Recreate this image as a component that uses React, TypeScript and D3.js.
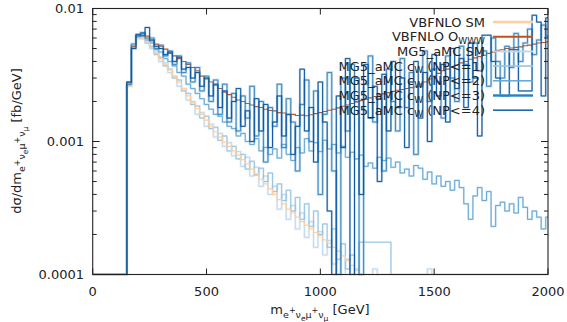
import * as d3 from "d3";
import { useEffect, useRef } from "react";

// all cross sections below are in units of 1e-4 fb/GeV, 20 GeV bins starting at 150 GeV
const UNIT = 1e-4;
const BIN_START = 150;
const BIN_WIDTH = 20;

const X_TICKS = [0, 500, 1000, 1500, 2000];
const Y_TICKS = [0.0001, 0.001, 0.01];
const Y_TICK_LABELS = ["0.0001", "0.001", "0.01"];

const vbfnloSM = [
  26, 50, 59, 60, 56, 51, 46, 42, 38, 34.5,
  31, 28, 25, 22, 19.5, 17.7, 16.0, 14.5, 13.0, 11.8,
  10.8, 9.9, 9.2, 8.5, 7.9, 7.3, 6.8, 6.2, 5.7, 5.2,
  4.8, 4.4, 4.0, 3.65, 3.4, 3.1, 2.9, 2.7, 2.5, 2.35,
  2.2, 2.07, 1.95, 1.82, 1.72, 1.6, 1.5, 1.38, 1.27, 1.17,
  1.07, 0.98, 0.9, 0.82, 0.75,
];

const vbfnloOwww = [
  28, 52, 63, 65, 62, 57, 54, 52, 49.5, 46,
  44, 42, 40, 38, 36, 34, 31, 29.5, 28, 26.5,
  25, 23.5, 22.5, 21.5, 20.5, 20, 19.3, 18.8, 18.3, 18,
  17.5, 17.1, 17.0, 16.5, 16.4, 15.9, 16.0, 15.7, 15.8, 15.6,
  15.9, 16.2, 16.5, 16.8, 17.2, 17.5, 17.9, 18.4, 18.8, 19.3,
  19.8, 20.3, 20.8, 21.3, 21.8, 22.4, 22.8, 23.3, 23.8, 24.3,
  24.6, 25.0, 25.4, 25.8, 27, 28, 29.5, 31, 32.5, 34,
  35, 36.5, 37.5, 39, 40, 41.5, 42.5, 43.5, 44.5, 46,
  47, 48.5, 49, 50, 50.5, 51, 51.5, 52.5, 53, 54,
  55, 55.5, 56,
];

const mg5SM = [
  26, 50, 61, 59, 57, 50, 47, 40, 39, 33,
  31, 26, 25, 20.5, 20, 16, 16.5, 13, 13.5, 10.8,
  11.5, 9.2, 9.8, 7.8, 8.4, 6.5, 7.6, 5.5, 6.4, 4.6,
  5.5, 4.0, 4.6, 3.1, 4.0, 2.6, 3.3, 2.2, 2.9, 1.9,
  2.5, 1.6, 2.1, 1.4, 1.8, 1.2, 1.5, 0, 1.3, 0,
  1.1, 0, 0, 0, 1.1, 0, 0, 0, 0, 0,
  0, 0, 0, 0, 0, 0, 1.1, 0,
];

const mg5NP1 = [
  26, 51, 60, 61, 55, 52, 45, 43, 37, 35,
  30, 29, 24, 23, 19, 18.5, 15, 15.5, 12.5, 12.8,
  10.2, 11, 8.5, 9.2, 7.4, 8.0, 6.2, 7.1, 5.6, 6.3,
  5.0, 5.8, 4.2, 4.8, 3.6, 4.3, 3.0, 3.8, 2.6, 3.4,
  2.3, 3.0, 2.0, 2.4, 1.6, 2.2, 1.3, 1.7, 1.1, 1.4,
  0, 1.75, 1.75, 1.75, 1.75, 1.75, 1.75, 1.75, 0,
];

const mg5NP2 = [
  27, 52, 62, 62, 58, 55, 49, 47, 42, 40,
  37, 33, 31, 27, 25, 23, 21, 19, 17.5, 16,
  15.5, 14, 13, 12.5, 11, 11.5, 10, 9.5, 10.5, 8.5,
  9, 8, 8.8, 7.5, 9.5, 8, 7.2, 9, 8.2, 10.5,
  8.5, 9.8, 8.4, 10.2, 8.8, 9.5, 8.2, 9.2, 7.6, 8.3,
  7.4, 7.9, 6.5, 6.9, 6.3, 7.6, 7.2, 7.5, 6.4, 7.0,
  5.8, 6.2, 5.5, 6.6, 6.3, 5.2, 5.9, 4.8, 5.5, 4.6,
  5.0, 4.3, 5.1, 4.5, 3.4, 2.6, 3.9, 4.5, 3.6, 4.2,
  2.3, 3.3, 3.5, 3.0, 3.4, 2.9, 3.8, 3.2, 2.6, 3.0,
  2.7, 2.2, 2.7,
];

const mg5NP3 = [
  27, 54, 62, 66, 60, 60, 50, 53, 44, 48,
  38, 44, 33, 39, 28, 36, 24, 31, 20, 29,
  16, 27, 14, 23, 12, 22, 15, 26, 11, 20,
  7, 18, 13, 27, 9, 21, 14, 6, 19, 29,
  10, 24, 4, 16, 33, 6, 0, 30, 12, 38,
  20, 0, 27, 44, 14, 21, 6, 35, 20, 12,
  42, 18, 33, 8, 26, 48, 20, 35, 28, 15,
  44, 30, 20, 52, 38, 28, 55, 34, 48, 26,
  60, 40, 30, 52, 36, 65, 40, 55, 70, 45,
  58, 75, 62,
];

const mg5NP4 = [
  28, 50, 64, 63, 72, 58, 52, 50, 45, 47,
  40, 43, 35, 36, 30, 33, 26, 30, 22, 27,
  18, 24, 15, 20, 25, 13, 17, 10, 21, 12,
  19, 9, 14, 22, 11, 16, 8, 13, 35, 12,
  18, 7, 28, 14, 3, 0, 22, 9, 42, 0,
  30, 4, 38, 15, 26, 5, 32, 12, 40, 18,
  30, 9, 28, 40, 15, 33, 10, 45, 22, 38,
  14, 50, 25, 42, 18, 55, 30, 11, 63, 63,
  40, 30, 22, 22, 49, 49, 24, 24, 24, 89,
  79, 22, 85,
];

interface Series {
  values: number[];
  color: string;
  width: number;
  band?: string;
  bandWidth?: number;
  label: [string, string, string];
  legendWidth: number;
}

// legend order
const SERIES: Series[] = [
  { values: vbfnloSM, color: "#fdcfa2", width: 1.2, label: ["VBFNLO SM", "", ""], legendWidth: 2.5 },
  { values: vbfnloOwww, color: "#c4501b", width: 1.1, label: ["VBFNLO O", "WWW", ""], legendWidth: 2 },
  { values: mg5SM, color: "#bcd5ec", width: 0.9, band: "#c6dbef", bandWidth: 2.5, label: ["MG5_aMC SM", "", ""], legendWidth: 2 },
  { values: mg5NP1, color: "#8fc0e0", width: 0.9, band: "#9ecae1", bandWidth: 2, label: ["MG5_aMC c", "W", " (NP<=1)"], legendWidth: 1.5 },
  { values: mg5NP2, color: "#5ba3d3", width: 0.9, band: "#6baed6", bandWidth: 2, label: ["MG5_aMC c", "W", " (NP<=2)"], legendWidth: 1.5 },
  { values: mg5NP3, color: "#2f7fbd", width: 0.9, band: "#4292c6", bandWidth: 2.5, label: ["MG5_aMC c", "W", " (NP<=3)"], legendWidth: 3 },
  { values: mg5NP4, color: "#0d57a1", width: 1, band: "#2171b5", bandWidth: 2, label: ["MG5_aMC c", "W", " (NP<=4)"], legendWidth: 1.5 },
];
const DRAW_ORDER = [2, 3, 4, 0, 1, 5, 6];

type Part = { t: string; lvl: number; size: number };

// e+ ν_e μ+ ν_μ written as subscript with nested super/sub scripts
const SUB_PARTS: Part[] = [
  { t: "e", lvl: 4, size: 9.5 },
  { t: "+", lvl: -1, size: 8 },
  { t: "ν", lvl: 4, size: 9.5 },
  { t: "e", lvl: 6.5, size: 7.5 },
  { t: "μ", lvl: 4, size: 9.5 },
  { t: "+", lvl: -1, size: 8 },
  { t: "ν", lvl: 4, size: 9.5 },
  { t: "μ", lvl: 6.5, size: 7.5 },
];

function rich(
  text: d3.Selection<SVGTextElement, unknown, null, undefined>,
  parts: Part[],
) {
  let prev = 0;
  parts.forEach((p) => {
    text
      .append("tspan")
      .attr("dy", p.lvl - prev)
      .attr("font-size", p.size)
      .text(p.t);
    prev = p.lvl;
  });
}

export default function App() {
  const svgRef = useRef<SVGSVGElement>(null);
  const width = 567;
  const height = 322;

  useEffect(() => {
    if (!svgRef.current) return;
    const svg = d3.select(svgRef.current);
    svg.selectAll("*").remove();

    const left = 92.7;
    const right = 548;
    const top = 8.5;
    const bottom = 274.5;
    const font = "DejaVu Sans";
    const ink = "#222";

    const x = d3.scaleLinear().domain([0, 2000]).range([left, right]);
    const y = d3.scaleLog().domain([1e-4, 1e-2]).range([bottom, top]);
    const yv = (v: number) => (v > 0 ? y(v * UNIT) : bottom);

    svg
      .append("defs")
      .append("clipPath")
      .attr("id", "plot")
      .append("rect")
      .attr("x", left)
      .attr("y", top)
      .attr("width", right - left)
      .attr("height", bottom - top + 1);

    const line = d3
      .line<[number, number]>()
      .x((d) => x(d[0]))
      .y((d) => yv(d[1]))
      .curve(d3.curveStepAfter);

    const pts = (vals: number[]): [number, number][] => {
      const p: [number, number][] = [[0, 0]];
      vals.forEach((v, i) => p.push([BIN_START + i * BIN_WIDTH, v]));
      p.push([BIN_START + vals.length * BIN_WIDTH, 0]);
      if (BIN_START + vals.length * BIN_WIDTH < 2000) p.push([2000, 0]);
      return p;
    };

    const g = svg.append("g").attr("clip-path", "url(#plot)");
    DRAW_ORDER.forEach((k) => {
      const s = SERIES[k];
      const d = line(pts(s.values));
      if (s.band) {
        g.append("path")
          .attr("d", d)
          .attr("fill", "none")
          .attr("stroke", s.band)
          .attr("stroke-width", s.bandWidth ?? 2)
          .attr("stroke-opacity", 0.35);
      }
      g.append("path")
        .attr("d", d)
        .attr("fill", "none")
        .attr("stroke", s.color)
        .attr("stroke-width", s.width);
    });

    // frame
    svg
      .append("rect")
      .attr("x", left)
      .attr("y", top)
      .attr("width", right - left)
      .attr("height", bottom - top)
      .attr("fill", "none")
      .attr("stroke", ink)
      .attr("stroke-width", 1.1);

    const ticks = svg.append("g").attr("stroke", ink).attr("stroke-width", 1);
    X_TICKS.forEach((t) => {
      ticks.append("line").attr("x1", x(t)).attr("x2", x(t)).attr("y1", bottom).attr("y2", bottom - 6);
      ticks.append("line").attr("x1", x(t)).attr("x2", x(t)).attr("y1", top).attr("y2", top + 6);
    });
    const minor: number[] = [];
    [1e-4, 1e-3].forEach((d) => {
      for (let k = 2; k <= 9; k++) minor.push(d * k);
    });
    minor.forEach((t) => {
      ticks.append("line").attr("x1", left).attr("x2", left + 4).attr("y1", y(t)).attr("y2", y(t));
      ticks.append("line").attr("x1", right).attr("x2", right - 4).attr("y1", y(t)).attr("y2", y(t));
    });
    Y_TICKS.forEach((t) => {
      ticks.append("line").attr("x1", left).attr("x2", left + 7).attr("y1", y(t)).attr("y2", y(t));
      ticks.append("line").attr("x1", right).attr("x2", right - 7).attr("y1", y(t)).attr("y2", y(t));
    });

    const labels = svg
      .append("g")
      .attr("font-family", font)
      .attr("font-size", 13)
      .attr("fill", ink);
    X_TICKS.forEach((t) => {
      labels
        .append("text")
        .attr("x", x(t))
        .attr("y", 296)
        .attr("text-anchor", "middle")
        .text(String(t));
    });
    Y_TICKS.forEach((t, i) => {
      labels
        .append("text")
        .attr("x", 84)
        .attr("y", y(t) + 4.5)
        .attr("text-anchor", "end")
        .text(Y_TICK_LABELS[i]);
    });

    // axis titles
    const xt = labels
      .append("text")
      .attr("x", 320)
      .attr("y", 314)
      .attr("text-anchor", "middle");
    xt.append("tspan").text("m");
    rich(xt, [...SUB_PARTS, { t: " [GeV]", lvl: 0, size: 13 }]);

    const yt = labels
      .append("text")
      .attr("transform", "translate(21,141) rotate(-90)")
      .attr("text-anchor", "middle");
    yt.append("tspan").text("dσ/dm");
    rich(yt, [...SUB_PARTS, { t: " [fb/GeV]", lvl: 0, size: 13 }]);

    // legend
    const leg = svg.append("g");
    SERIES.forEach((s, i) => {
      const cy = 22 + i * 14.7;
      leg
        .append("line")
        .attr("x1", 493)
        .attr("x2", 533)
        .attr("y1", cy)
        .attr("y2", cy)
        .attr("stroke", s.band ?? s.color)
        .attr("stroke-opacity", s.band ? 0.8 : 1)
        .attr("stroke-width", s.legendWidth);
      if (s.band) {
        leg
          .append("line")
          .attr("x1", 493)
          .attr("x2", 533)
          .attr("y1", cy)
          .attr("y2", cy)
          .attr("stroke", s.color)
          .attr("stroke-width", 1);
      }
      const t = leg
        .append("text")
        .attr("x", 485)
        .attr("y", cy + 4.6)
        .attr("text-anchor", "end")
        .attr("font-family", font)
        .attr("font-size", 13)
        .attr("fill", ink);
      t.append("tspan").text(s.label[0]);
      if (s.label[1]) {
        t.append("tspan").attr("dy", 2.5).attr("font-size", 9).text(s.label[1]);
        if (s.label[2]) t.append("tspan").attr("dy", -2.5).text(s.label[2]);
      }
    });
  }, []);

  return (
    <svg
      ref={svgRef}
      width={width}
      height={height}
      style={{ position: "absolute", left: 0, top: 0, background: "#fff" }}
    />
  );
}
